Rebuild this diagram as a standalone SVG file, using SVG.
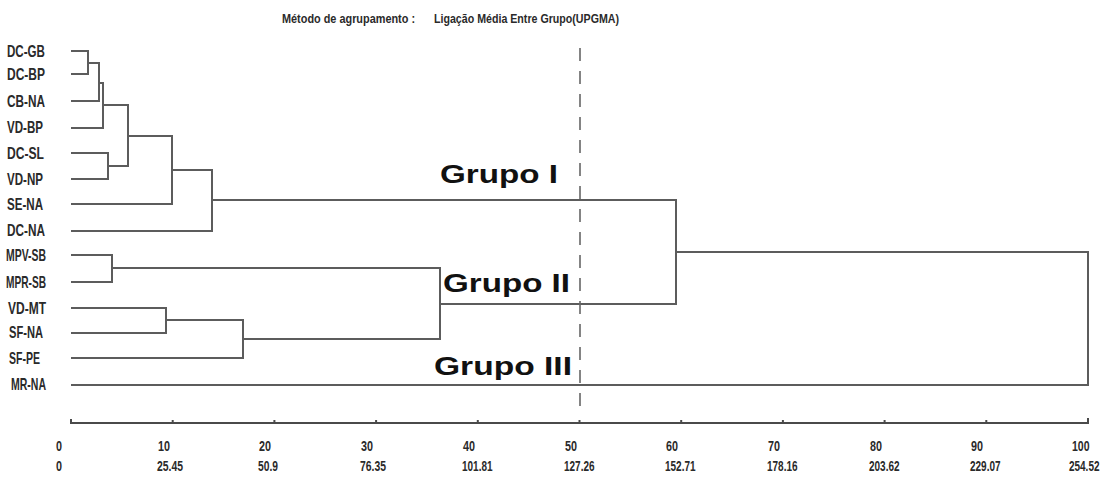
<svg xmlns="http://www.w3.org/2000/svg" width="1105" height="477" viewBox="0 0 1105 477">
  <style>
    .leaf { font-family: "Liberation Sans", Arial, sans-serif; font-size: 17px; font-weight: bold; fill: #2a2a2a; }
    .tick { font-family: "Liberation Sans", Arial, sans-serif; font-size: 15px; font-weight: bold; fill: #2a2a2a; }
    .title { font-family: "Liberation Sans", Arial, sans-serif; font-size: 13.5px; font-weight: bold; fill: #2a2a2a; }
    .grp { font-family: "Liberation Sans", Arial, sans-serif; font-size: 26px; font-weight: bold; fill: #111; }
    .ln { fill: none; stroke: #5c5c5c; stroke-width: 2; stroke-linejoin: miter; stroke-linecap: square; }
    .axis { fill: none; stroke: #4a4a4a; stroke-width: 2; }
    .cut { fill: none; stroke: #666; stroke-width: 1.6; stroke-dasharray: 13 10; }
  </style>
  <rect width="1105" height="477" fill="#ffffff"/>

  <g id="title">
    <text class="title" x="282" y="23" textLength="133" lengthAdjust="spacingAndGlyphs">Método de agrupamento :</text>
    <text class="title" x="434" y="23" textLength="185" lengthAdjust="spacingAndGlyphs">Ligação Média Entre Grupo(UPGMA)</text>
  </g>

  <g id="leaves">
    <g id="leaf-DC-GB"><text class="leaf" x="7" y="57" textLength="38" lengthAdjust="spacingAndGlyphs">DC-GB</text></g>
    <g id="leaf-DC-BP"><text class="leaf" x="7" y="80" textLength="38" lengthAdjust="spacingAndGlyphs">DC-BP</text></g>
    <g id="leaf-CB-NA"><text class="leaf" x="7" y="107" textLength="38" lengthAdjust="spacingAndGlyphs">CB-NA</text></g>
    <g id="leaf-VD-BP"><text class="leaf" x="7" y="133" textLength="36" lengthAdjust="spacingAndGlyphs">VD-BP</text></g>
    <g id="leaf-DC-SL"><text class="leaf" x="7" y="159" textLength="37" lengthAdjust="spacingAndGlyphs">DC-SL</text></g>
    <g id="leaf-VD-NP"><text class="leaf" x="7" y="185" textLength="36" lengthAdjust="spacingAndGlyphs">VD-NP</text></g>
    <g id="leaf-SE-NA"><text class="leaf" x="7" y="210" textLength="36" lengthAdjust="spacingAndGlyphs">SE-NA</text></g>
    <g id="leaf-DC-NA"><text class="leaf" x="7" y="236" textLength="38" lengthAdjust="spacingAndGlyphs">DC-NA</text></g>
    <g id="leaf-MPV-SB"><text class="leaf" x="6" y="261" textLength="40" lengthAdjust="spacingAndGlyphs">MPV-SB</text></g>
    <g id="leaf-MPR-SB"><text class="leaf" x="6" y="288" textLength="40" lengthAdjust="spacingAndGlyphs">MPR-SB</text></g>
    <g id="leaf-VD-MT"><text class="leaf" x="8" y="314" textLength="38" lengthAdjust="spacingAndGlyphs">VD-MT</text></g>
    <g id="leaf-SF-NA"><text class="leaf" x="9" y="338" textLength="34" lengthAdjust="spacingAndGlyphs">SF-NA</text></g>
    <g id="leaf-SF-PE"><text class="leaf" x="9" y="364" textLength="31" lengthAdjust="spacingAndGlyphs">SF-PE</text></g>
    <g id="leaf-MR-NA"><text class="leaf" x="11" y="390" textLength="35" lengthAdjust="spacingAndGlyphs">MR-NA</text></g>
  </g>

  <g id="connectors">
    <!-- Group I -->
    <path class="ln" d="M72,51 H88 V74 H72"/>
    <path class="ln" d="M88,63 H99"/>
    <path class="ln" d="M72,101 H99 V63"/>
    <path class="ln" d="M99,83 H103"/>
    <path class="ln" d="M72,128 H103 V83"/>
    <path class="ln" d="M103,105 H128"/>
    <path class="ln" d="M72,153 H108 V179 H72"/>
    <path class="ln" d="M108,166 H128 V105"/>
    <path class="ln" d="M128,136 H172"/>
    <path class="ln" d="M72,204 H172 V136"/>
    <path class="ln" d="M172,170 H212"/>
    <path class="ln" d="M72,231 H212 V170"/>
    <path class="ln" d="M212,200 H676"/>
    <!-- Group II -->
    <path class="ln" d="M72,255 H112 V282 H72"/>
    <path class="ln" d="M112,268 H440"/>
    <path class="ln" d="M72,308 H166 V333 H72"/>
    <path class="ln" d="M166,320 H243"/>
    <path class="ln" d="M72,358 H243 V320"/>
    <path class="ln" d="M243,339 H440 V268"/>
    <path class="ln" d="M440,304 H676 V200"/>
    <!-- Root -->
    <path class="ln" d="M676,252 H1088 V385 H72"/>
    <!-- cut line -->
    <line class="cut" x1="580" y1="48" x2="580" y2="406"/>
  </g>

  <g id="group-labels">
    <text class="grp" x="440" y="183" textLength="118" lengthAdjust="spacingAndGlyphs">Grupo I</text>
    <text class="grp" x="443" y="292" textLength="127" lengthAdjust="spacingAndGlyphs">Grupo II</text>
    <text class="grp" x="434" y="375" textLength="138" lengthAdjust="spacingAndGlyphs">Grupo III</text>
  </g>

  <g id="axis">
    <path class="axis" d="M71,419 V423 H1088 V418"/>
    <path class="axis" d="M172.7,420 v3 M274.4,420 v3 M376.1,420 v3 M477.8,420 v3 M579.5,420 v3 M681.2,420 v3 M782.9,420 v3 M884.6,420 v3 M986.3,420 v3"/>
    <g id="axis-row1">
      <text class="tick" x="56" y="451" textLength="6" lengthAdjust="spacingAndGlyphs">0</text>
      <text class="tick" x="158" y="451" textLength="12" lengthAdjust="spacingAndGlyphs">10</text>
      <text class="tick" x="259" y="451" textLength="12" lengthAdjust="spacingAndGlyphs">20</text>
      <text class="tick" x="361" y="451" textLength="12" lengthAdjust="spacingAndGlyphs">30</text>
      <text class="tick" x="463" y="451" textLength="12" lengthAdjust="spacingAndGlyphs">40</text>
      <text class="tick" x="565" y="451" textLength="12" lengthAdjust="spacingAndGlyphs">50</text>
      <text class="tick" x="666" y="451" textLength="12" lengthAdjust="spacingAndGlyphs">60</text>
      <text class="tick" x="768" y="451" textLength="12" lengthAdjust="spacingAndGlyphs">70</text>
      <text class="tick" x="870" y="451" textLength="12" lengthAdjust="spacingAndGlyphs">80</text>
      <text class="tick" x="971" y="451" textLength="12" lengthAdjust="spacingAndGlyphs">90</text>
      <text class="tick" x="1072" y="451" textLength="17.5" lengthAdjust="spacingAndGlyphs">100</text>
    </g>
    <g id="axis-row2">
      <text class="tick" x="56" y="471" textLength="6" lengthAdjust="spacingAndGlyphs">0</text>
      <text class="tick" x="157" y="471" textLength="26" lengthAdjust="spacingAndGlyphs">25.45</text>
      <text class="tick" x="258" y="471" textLength="20" lengthAdjust="spacingAndGlyphs">50.9</text>
      <text class="tick" x="360" y="471" textLength="26" lengthAdjust="spacingAndGlyphs">76.35</text>
      <text class="tick" x="462" y="471" textLength="30.5" lengthAdjust="spacingAndGlyphs">101.81</text>
      <text class="tick" x="564" y="471" textLength="30.5" lengthAdjust="spacingAndGlyphs">127.26</text>
      <text class="tick" x="665" y="471" textLength="30.5" lengthAdjust="spacingAndGlyphs">152.71</text>
      <text class="tick" x="767" y="471" textLength="30.5" lengthAdjust="spacingAndGlyphs">178.16</text>
      <text class="tick" x="869" y="471" textLength="30.5" lengthAdjust="spacingAndGlyphs">203.62</text>
      <text class="tick" x="970" y="471" textLength="30.5" lengthAdjust="spacingAndGlyphs">229.07</text>
      <text class="tick" transform="translate(1069,471) scale(0.665,1)" x="0" y="0">254.52</text>
    </g>
  </g>
</svg>
